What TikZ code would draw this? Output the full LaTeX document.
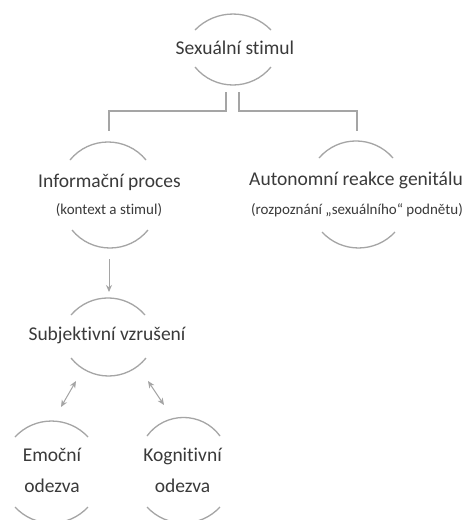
\documentclass[tikz,border=0pt]{standalone}
\usepackage{fontspec}
\setmainfont{Carlito}[Ligatures=NoCommon]
\usetikzlibrary{arrows.meta}
\definecolor{linegray}{HTML}{A5A5A5}
\definecolor{textgray}{HTML}{3A3A3A}
\tikzset{
  arcline/.style={draw=linegray,line width=1.3pt},
  conn/.style={draw=linegray,line width=1.3pt},
  arr/.style={draw=linegray,line width=1pt,-{Stealth[length=7pt,width=6pt]}},
  darr/.style={draw=linegray,line width=1pt,{Stealth[length=7pt,width=6pt]}-{Stealth[length=7pt,width=6pt]}},
  title/.style={text=textgray,font=\fontsize{19.5}{31}\selectfont,align=center,inner sep=0pt},
  subtitle/.style={text=textgray,font=\fontsize{15}{18}\selectfont,inner sep=0pt}
}

\begin{document}
\begin{tikzpicture}[x=1pt,y=-1pt]
    \clip (0,0) rectangle (466,520);
    \fill[white] (0,0) rectangle (466,520);
    % texts
    \node[title] (sex) at (235,48) {Sexuální stimul};
    \node[title] (inf) at (109.5,182) {Informační proces};
    \node[subtitle] (infsub) at (109,210) {(kontext a stimul)};
    \node[title] (aut) at (356,180) {Autonomní reakce genitálu};
    \node[subtitle] (autsub) at (357,210) {(rozpoznání „sexuálního“ podnětu)};
    \node[title] (subj) at (107,335) {Subjektivní vzrušení};
    \node[title] (emo) at (52,470.5) {Emoční\\odezva};
    \node[title] (kog) at (182.5,470.5) {Kognitivní\\odezva};
    % arcs
    \path[arcline] (195,30) .. controls (215.8,8.7) and (250.2,8.7) .. (271,30);
    \path[arcline] (195,67) .. controls (214.6,91) and (251.4,91) .. (271,67);
    \path[arcline] (70,160) .. controls (89.6,136) and (126.4,136) .. (146,160);
    \path[arcline] (72,230) .. controls (91.6,254) and (128.4,254) .. (148,230);
    \path[arcline] (319,158) .. controls (338.5,135.3) and (373.5,135.3) .. (393,158);
    \path[arcline] (322,232) .. controls (341.6,253.3) and (375.4,253.3) .. (395,232);
    \path[arcline] (71,315) .. controls (90.5,292.3) and (125.5,292.3) .. (145,315);
    \path[arcline] (71,358) .. controls (90.3,382) and (126.7,382) .. (146,358);
    \path[arcline] (15,437) .. controls (34.6,415.7) and (68.4,415.7) .. (88,437);
    \path[arcline] (15,507) .. controls (34.6,528.3) and (68.4,528.3) .. (88,507);
    \path[arcline] (147,436) .. controls (165,411.3) and (202,411.3) .. (220,436);
    \path[arcline] (147,507) .. controls (166.6,528.3) and (200.4,528.3) .. (220,507);
    % connector ends
    \coordinate (sexL) at (226,92);
    \coordinate (sexR) at (239,92);
    \coordinate (infT) at (109,131);
    \coordinate (autT) at (357,131);
    \coordinate (infB) at (109,259);
    \coordinate (subjT) at (109,292);
    \coordinate (subjL) at (76,381);
    \coordinate (subjR) at (148,381);
    \coordinate (emoT) at (61,407);
    \coordinate (kogT) at (164,405);
    % connectors
    \draw[conn] (sexL) -- ++(0,19) -| (infT);
    \draw[conn] (sexR) -- ++(0,19) -| (autT);
    \draw[arr] (infB) -- (subjT);
    \draw[darr] (subjL) -- (emoT);
    \draw[darr] (subjR) -- (kogT);
\end{tikzpicture}
\end{document}
